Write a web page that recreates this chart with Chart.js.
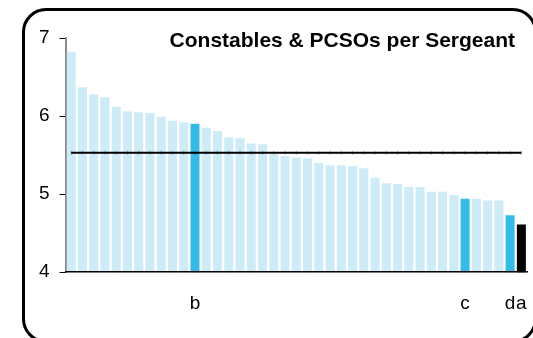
<!DOCTYPE html>
<html>
<head>
<meta charset="utf-8">
<script src="https://cdn.jsdelivr.net/npm/chart.js@4/dist/chart.umd.min.js"></script>
<style>
  html, body { margin: 0; padding: 0; background: #fff; overflow: hidden; }
  #wrap { position: relative; width: 533px; height: 338px; overflow: hidden; }
  #frame {
    position: absolute; left: 22px; top: 8px; width: 515px; height: 335px;
    box-sizing: border-box; border: 3px solid #000; border-radius: 24px;
  }
  #chart { position: absolute; left: 0; top: 0; }
</style>
</head>
<body>
<div id="wrap">
  <div id="frame"></div>
  <canvas id="chart" width="533" height="338"></canvas>
</div>
<script>
// ── Data ──────────────────────────────────────────────────
const chartTitle = "Constables & PCSOs per Sergeant";

const forceLabels = [
  "", "", "", "", "", "", "", "", "", "", "", "b", "", "", "", "", "", "", "", "",
  "", "", "", "", "", "", "", "", "", "", "", "", "", "", "", "c", "", "", "", "d", "a"
];

const officersPerSergeant = [
  6.82, 6.37, 6.28, 6.24, 6.12, 6.06, 6.05, 6.04, 5.99, 5.94,
  5.92, 5.90, 5.85, 5.81, 5.73, 5.72, 5.65, 5.64, 5.51, 5.49,
  5.47, 5.46, 5.40, 5.37, 5.37, 5.36, 5.33, 5.21, 5.14, 5.13,
  5.09, 5.09, 5.03, 5.03, 4.99, 4.94, 4.94, 4.92, 4.92, 4.73, 4.61
];

const averageValue = 5.53;
const yTicks = [4, 5, 6, 7];

// ── Styling helpers ───────────────────────────────────────
const LIGHT = "#cdecf8";
const HILITE = "#35bbe9";
const FONT = "'Liberation Sans', Arial, sans-serif";

const barColors = forceLabels.map(l => {
  if (l === "a") return "#000000";
  if (l === "") return LIGHT;
  return HILITE;
});

// Title drawn inside the plot, top right
const cornerTitle = {
  id: "cornerTitle",
  afterDraw(chart) {
    const ctx = chart.ctx;
    ctx.save();
    ctx.font = "bold 21px " + FONT;
    ctx.fillStyle = "#000";
    ctx.textAlign = "right";
    ctx.textBaseline = "alphabetic";
    ctx.fillText(chartTitle, 515, 47);
    ctx.restore();
  }
};

new Chart(document.getElementById("chart"), {
  data: {
    labels: forceLabels,
    datasets: [
      {
        type: "line",
        data: forceLabels.map(() => averageValue),
        borderColor: "#000",
        borderWidth: 2,
        pointStyle: "line",
        pointRotation: 90,
        pointRadius: 2,
        pointBorderWidth: 1,
        pointBorderColor: "rgba(0,0,0,0.3)",
        order: 0
      },
      {
        type: "bar",
        data: officersPerSergeant,
        backgroundColor: barColors,
        barPercentage: 0.8,
        categoryPercentage: 1,
        order: 1
      }
    ]
  },
  options: {
    responsive: false,
    animation: false,
    events: [],
    layout: { padding: { left: 29, right: 0, top: 38, bottom: 11 } },
    plugins: {
      legend: { display: false },
      tooltip: { enabled: false }
    },
    scales: {
      x: {
        offset: true,
        afterFit: s => { s.paddingRight = 6; },
        grid: { display: false },
        border: { display: true, color: "#000", width: 1.5, z: 1 },
        ticks: {
          autoSkip: false,
          maxRotation: 0,
          padding: 12,
          color: "#000",
          font: { family: FONT, size: 19 }
        }
      },
      y: {
        min: 4,
        max: 7,
        afterBuildTicks: axis => { axis.ticks = yTicks.map(v => ({ value: v })); },
        grid: { drawOnChartArea: false, drawTicks: true, tickLength: 6, color: "#000", lineWidth: 1 },
        border: { display: true, color: "#888", width: 2 },
        ticks: {
          padding: 10,
          color: "#000",
          font: { family: FONT, size: 19 }
        }
      }
    }
  },
  plugins: [cornerTitle]
});
</script>
</body>
</html>
